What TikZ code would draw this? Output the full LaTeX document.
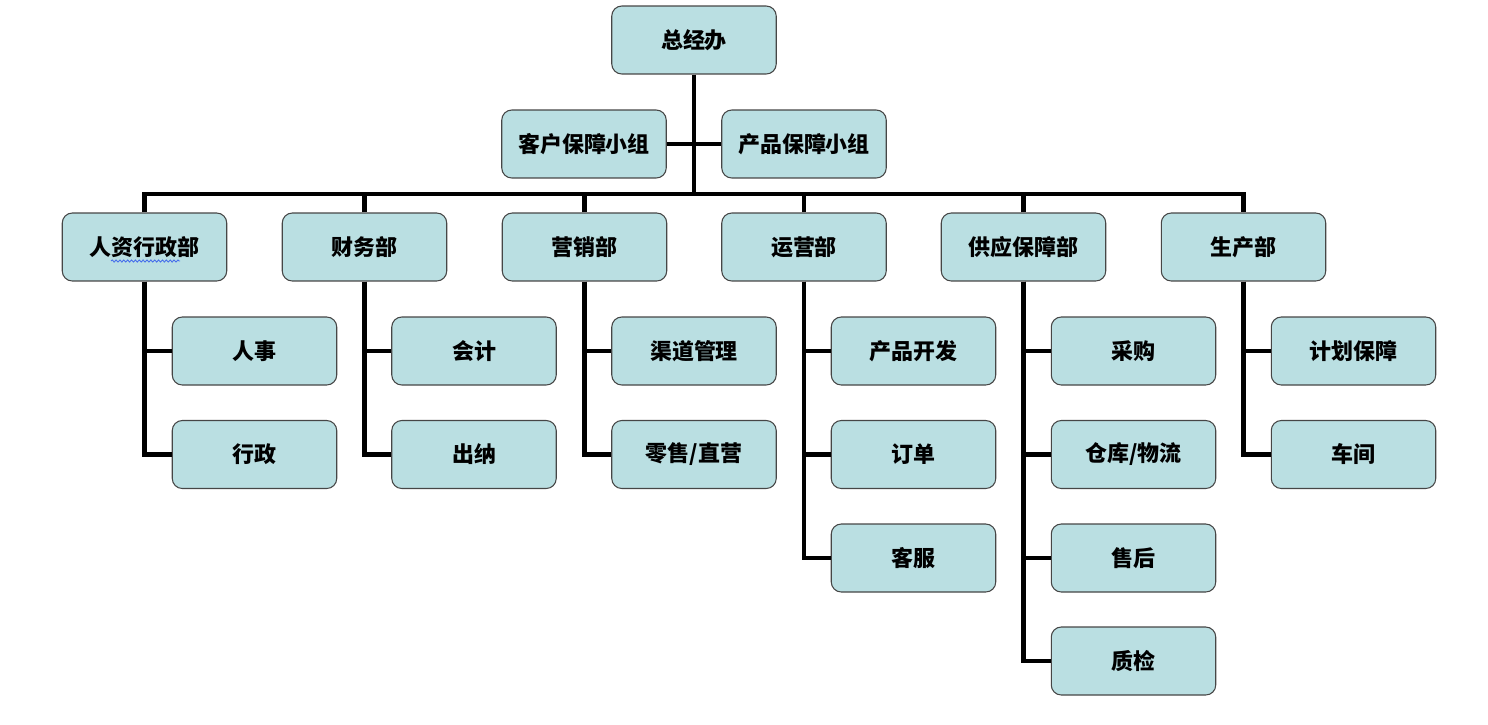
\documentclass[tikz,border=0pt]{standalone}
\usepackage{fontspec}
\newfontfamily\cjk{Noto Sans CJK SC}
\usetikzlibrary{calc,decorations.pathmorphing}
\definecolor{boxfill}{RGB}{186,223,226}
\definecolor{boxline}{RGB}{70,70,70}
\definecolor{spellblue}{RGB}{70,110,235}

\begin{document}
\begin{tikzpicture}[x=0.02cm, y=-0.02cm,
    unit/.style={draw=boxline, line width=0.6pt, fill=boxfill, rounded corners=0.2cm,
      minimum width=3.29cm, minimum height=1.36cm, inner sep=0pt,
      font=\cjk\bfseries\fontsize{12.5}{14}\selectfont},
    trunk/.style={line width=2.3pt},
    link/.style={line width=1.8pt}]
        \useasboundingbox (0,0) rectangle (1488,724);
        % Top
        \node[unit] (gm) at (694,40) {总经办};
        \node[unit] (kh) at (584,144) {客户保障小组};
        \node[unit] (cp) at (804,144) {产品保障小组};
        \coordinate (bus) at (694,194);
        % Departments
        \node[unit] (hr)  at (144.5,247) {人资行政部};
        \node[unit] (cw)  at (364.5,247) {财务部};
        \node[unit] (yx)  at (584.5,247) {营销部};
        \node[unit] (yy)  at (804,247)   {运营部};
        \node[unit] (gy)  at (1023.5,247) {供应保障部};
        \node[unit] (sc)  at (1243.5,247) {生产部};
        % Units below
        \node[unit] (hr1) at (254.5,351) {人事};
        \node[unit] (hr2) at (254.5,454.5) {行政};
        \node[unit] (cw1) at (474,351) {会计};
        \node[unit] (cw2) at (474,454.5) {出纳};
        \node[unit] (yx1) at (694,351) {渠道管理};
        \node[unit] (yx2) at (694,454.5) {零售/直营};
        \node[unit] (yy1) at (913.5,351) {产品开发};
        \node[unit] (yy2) at (913.5,454.5) {订单};
        \node[unit] (yy3) at (913.5,558) {客服};
        \node[unit] (gy1) at (1133.5,351) {采购};
        \node[unit] (gy2) at (1133.5,454.5) {仓库/物流};
        \node[unit] (gy3) at (1133.5,558) {售后};
        \node[unit] (gy4) at (1133.5,661) {质检};
        \node[unit] (sc1) at (1353.5,351) {计划保障};
        \node[unit] (sc2) at (1353.5,454.5) {车间};
        % Connectors
        \draw[link] (kh.east) -- (cp.west);
        \draw[trunk] (gm.south) -- (bus);
        \draw[trunk] (hr.north) -- (hr.north |- bus) -- (sc.north |- bus) -- (sc.north);
        \draw[trunk] (cw.north) -- (cw.north |- bus);
        \draw[trunk] (yx.north) -- (yx.north |- bus);
        \draw[trunk] (yy.north) -- (yy.north |- bus);
        \draw[trunk] (gy.north) -- (gy.north |- bus);
        \draw[trunk] (hr.south) |- (hr1.west);
        \draw[trunk] (hr.south) |- (hr2.west);
        \draw[trunk] (cw.south) |- (cw1.west);
        \draw[trunk] (cw.south) |- (cw2.west);
        \draw[trunk] (yx.south) |- (yx1.west);
        \draw[trunk] (yx.south) |- (yx2.west);
        \draw[trunk] (yy.south) |- (yy1.west);
        \draw[trunk] (yy.south) |- (yy2.west);
        \draw[trunk] (yy.south) |- (yy3.west);
        \draw[trunk] (gy.south) |- (gy1.west);
        \draw[trunk] (gy.south) |- (gy2.west);
        \draw[trunk] (gy.south) |- (gy3.west);
        \draw[trunk] (gy.south) |- (gy4.west);
        \draw[trunk] (sc.south) |- (sc1.west);
        \draw[trunk] (sc.south) |- (sc2.west);
        % wavy mark under the text
        \draw[spellblue, line width=0.5pt, decorate,
          decoration={snake, segment length=2.2pt, amplitude=0.6pt}]
          ($(hr.center)+(-33.5,14)$) -- ($(hr.center)+(35.5,14)$);
    \end{tikzpicture}
\end{document}
